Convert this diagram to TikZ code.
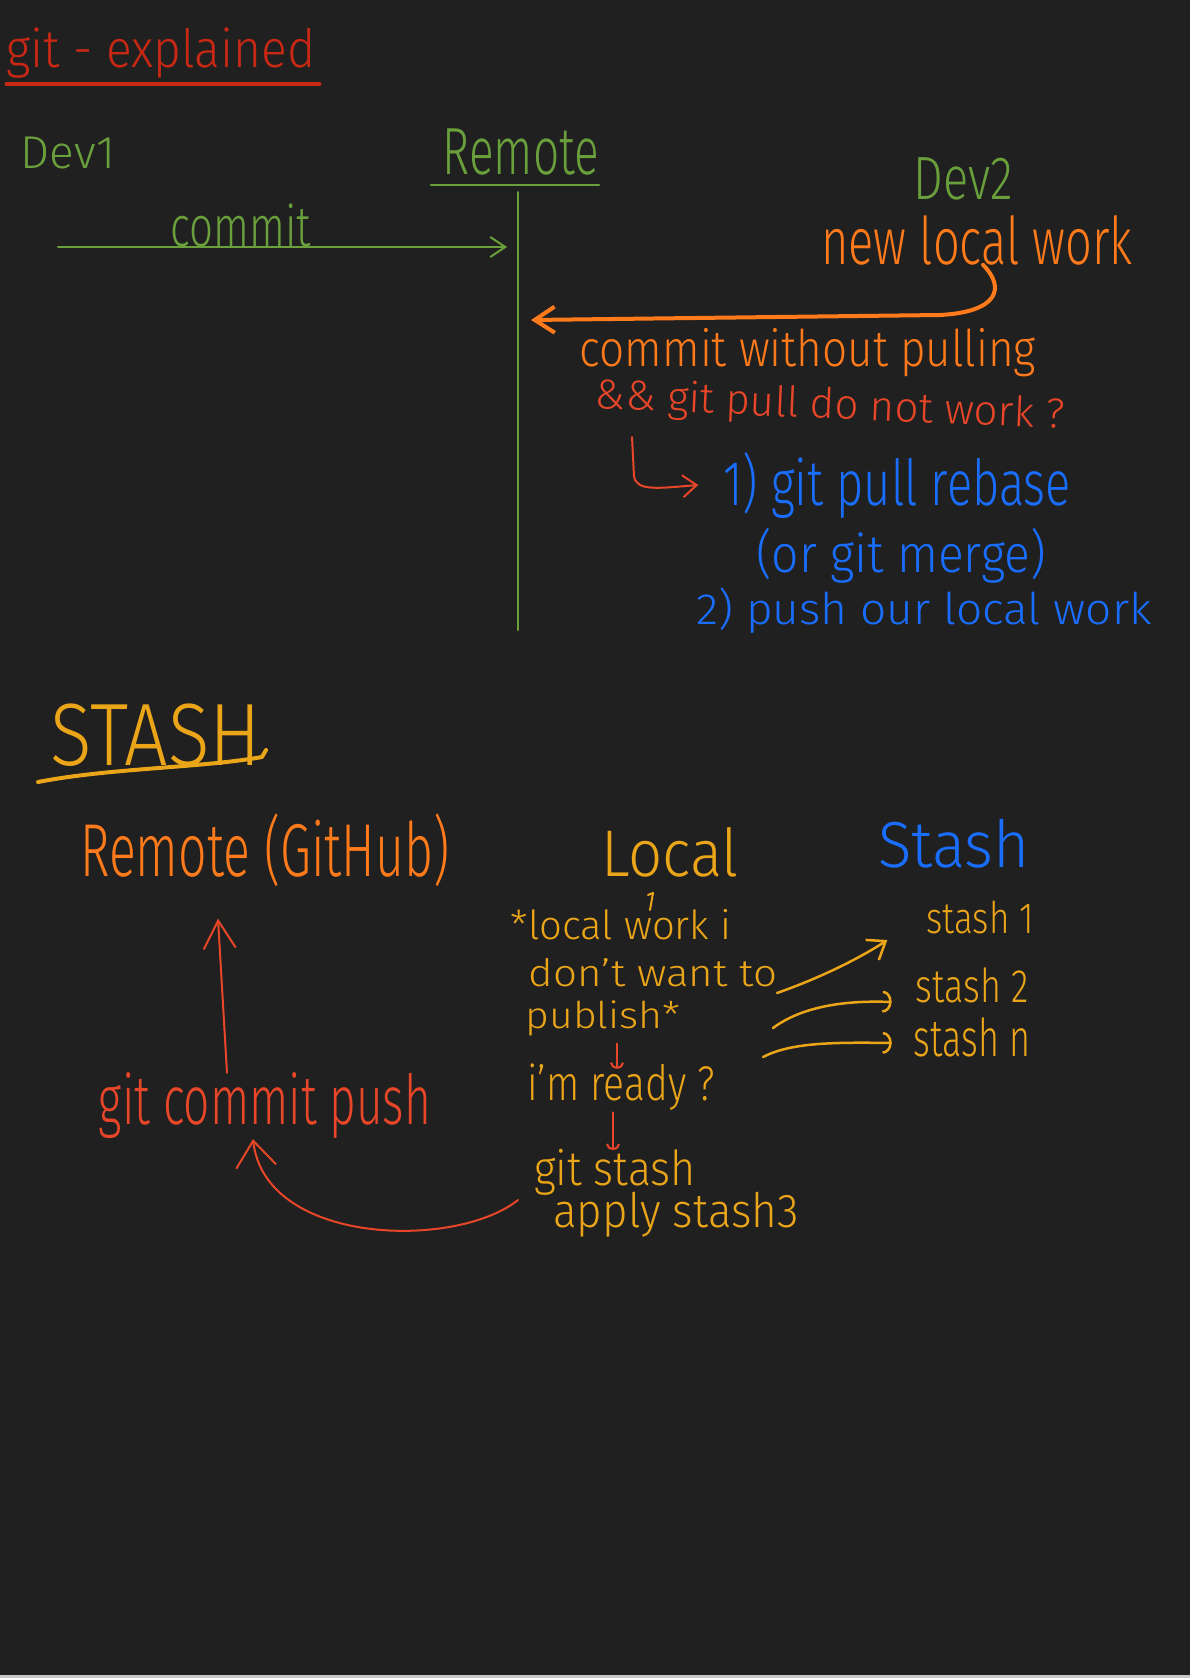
\documentclass[tikz,border=0pt]{standalone}
\usepackage{fontspec}
\setmainfont{Fira Sans}[UprightFont=* Light]
\usepackage{tikz}
\usetikzlibrary{arrows.meta}
\usetikzlibrary{positioning}
\definecolor{board}{HTML}{202020}
\definecolor{strip}{HTML}{C8C8C8}
\definecolor{inkgreen}{HTML}{6AA03C}
\definecolor{inktitle}{HTML}{C82814}
\definecolor{inkorange}{HTML}{FF7A1A}
\definecolor{inkred}{HTML}{E84628}
\definecolor{inkblue}{HTML}{196EFF}
\definecolor{inkgold}{HTML}{EBA519}
% handwriting is taller than the font
\newcommand{\tallink}[2]{\scalebox{1}[#1]{#2}}
\tikzset{
     hand/.style={
           inner sep=0pt,
           outer sep=0pt,
           text centered,
           },
     fs/.style={
           font=\fontsize{#1pt}{#1pt}\selectfont,
           },
     pen/.style={
           line width=#1,
           line cap=round,
           line join=round,
           },
}

\begin{document}
\begin{tikzpicture}[x=1pt,y=-1pt]
	\useasboundingbox (0,0) rectangle (1190,1678);
	\fill[board] (0,0) rectangle (1190,1678);
	\fill[strip] (0,1675) rectangle (1190,1678);

	%git explained part
	\node[hand, fs=48, text=inktitle] (title) at (161,53) {\tallink{1.1}{git - explained}};
	\node[hand, fs=46, text=inkgreen] (dev1) at (68,153) {Dev1};
	\node[hand, fs=46, text=inkgreen] (remote) at (521,152) {\tallink{1.45}{Remote}};
	\node[hand, fs=42, text=inkgreen] (commit) at (241,225) {\tallink{1.35}{commit}};
	\node[hand, fs=47, text=inkgreen] (dev2) at (963,179) {\tallink{1.3}{Dev2}};
	\node[hand, fs=47, text=inkorange] (newwork) at (977,240) {\tallink{1.4}{new local work}};
	\node[hand, fs=44, text=inkorange] (nopull) at (808,353) {\tallink{1.15}{commit without pulling}};
	\node[hand, fs=42, text=inkred, rotate=-2.5] (pullfail) at (830,407) {\&\& git pull do not work ?};
	\node[hand, fs=47, text=inkblue] (step1) at (897,485) {\tallink{1.35}{1) git pull rebase}};
	\node[hand, fs=48, text=inkblue] (step1b) at (901,556) {\tallink{1.1}{(or git merge)}};
	\node[hand, fs=46, text=inkblue] (step2) at (924,611) {\tallink{0.95}{2) push our local work}};

	\coordinate (rtop) at (518,192);
	\coordinate (rbot) at (518,630);
	\coordinate (c0) at (58,247);
	\coordinate (o1) at (531,320);
	\coordinate (h0) at (632,437);

	%stash part
	\node[hand, fs=77, text=inkgold] (stashtitle) at (156,735) {\tallink{1.15}{STASH}};
	\node[hand, fs=50, text=inkorange] (ghremote) at (265,850) {\tallink{1.5}{Remote (GitHub)}};
	\node[hand, fs=46, text=inkred] (gcp) at (265,1106) {\tallink{1.5}{git commit push}};

	\node[hand, fs=60, text=inkgold] (local) at (670,852) {\tallink{1.1}{Local}};
	\node[hand, fs=62, text=inkblue] (stashhead) at (954,844) {\tallink{1.05}{Stash}};
	\node[hand, fs=40, text=inkgold] (loc1) at (621,925) {*local work i};
	\node[hand, fs=42, text=inkgold] (loc2) at (653,973) {\tallink{0.9}{don't want to}};
	\node[hand, fs=41, text=inkgold] (loc3) at (603,1018) {\tallink{0.9}{publish*}};
	\node[hand, fs=39, text=inkgold] (ready) at (621,1087) {\tallink{1.25}{i'm ready ?}};
	\node[hand, fs=43, text=inkgold] (gitstash) at (615,1172) {\tallink{1.12}{git stash}};
	\node[hand, fs=44, text=inkgold] (apply) at (676,1215) {\tallink{1.08}{apply stash3}};

	\node[hand, fs=35, text=inkgold] (stash1) at (980,917) {\tallink{1.25}{stash 1}};
	\node[hand, fs=36, text=inkgold] (stash2) at (972,985) {\tallink{1.3}{stash 2}};
	\node[hand, fs=36, text=inkgold] (stashn) at (972,1037) {\tallink{1.45}{stash n}};

	\coordinate (t1) at (777,993);
	\coordinate (t2) at (773,1028);
	\coordinate (t3) at (763,1057);
	\coordinate (a0) at (518,1200);

	%EDGES

	\draw[pen=4pt, inktitle] ([yshift=-6pt]title.south west) -- ([xshift=4pt,yshift=-6pt]title.south east);
	\draw[pen=2pt, inkgreen] ([xshift=-12pt,yshift=-10pt]remote.south west) -- ([yshift=-10pt]remote.south east);
	\path[pen=2pt, inkgreen] (rtop) edge (rbot);
	\draw[pen=2pt, inkgreen, -{Straight Barb[length=15pt,width=20pt]}, shorten >=11pt] (c0) -- (c0 -| rtop);

	\draw[pen=4pt, inkorange, -{Straight Barb[length=20pt,width=26pt]}]
		([xshift=6pt]newwork.south) .. controls (1006,288) and (998,312) .. (940,315) -- (o1);
	\draw[pen=2pt, inkred, -{Straight Barb[length=14pt,width=22pt]}]
		(h0) -- (634,476) .. controls (636,492) and (660,488) .. ([xshift=-25pt]step1.west);

	\draw[pen=4pt, inkgold] (38,782) .. controls (110,768) and (200,768) .. (262,757) -- (266,750);

	\draw[pen=2pt, inkred, -{Straight Barb[length=28pt,width=32pt]}]
		([xshift=-38pt]gcp.north) -- ([xshift=-47pt,yshift=-32pt]ghremote.south);
	\draw[pen=2pt, inkred, -{Straight Barb[length=26pt,width=40pt]}]
		(a0) .. controls (455,1250) and (265,1245) .. ([xshift=-12pt]gcp.south);

	\draw[pen=2pt, inkgold] (648,895) -- (653,893) -- (650,910);
	\draw[pen=2pt, inkred, -{Arc Barb[length=6pt,width=14pt]}]
		([xshift=14pt,yshift=-8pt]loc3.south) -- ([xshift=-4pt,yshift=-5pt]ready.north);
	\draw[pen=2pt, inkred, -{Arc Barb[length=6pt,width=14pt]}]
		([xshift=-8pt,yshift=-2pt]ready.south) -- ([xshift=-2pt,yshift=-1pt]gitstash.north);

	\draw[pen=2.5pt, inkgold, -{Straight Barb[length=16pt,width=24pt]}]
		(t1) .. controls (820,978) and (860,958) .. ([xshift=-39pt,yshift=-23pt]stash1.west);
	\draw[pen=2.5pt, inkgold, -{Arc Barb[length=9pt,width=22pt]}]
		(t2) .. controls (800,1008) and (840,1000) .. ([xshift=-24pt,yshift=-17pt]stash2.west);
	\draw[pen=2.5pt, inkgold, -{Arc Barb[length=9pt,width=22pt]}]
		(t3) .. controls (790,1043) and (830,1042) .. ([xshift=-22pt,yshift=-6pt]stashn.west);

\end{tikzpicture}
\end{document}
